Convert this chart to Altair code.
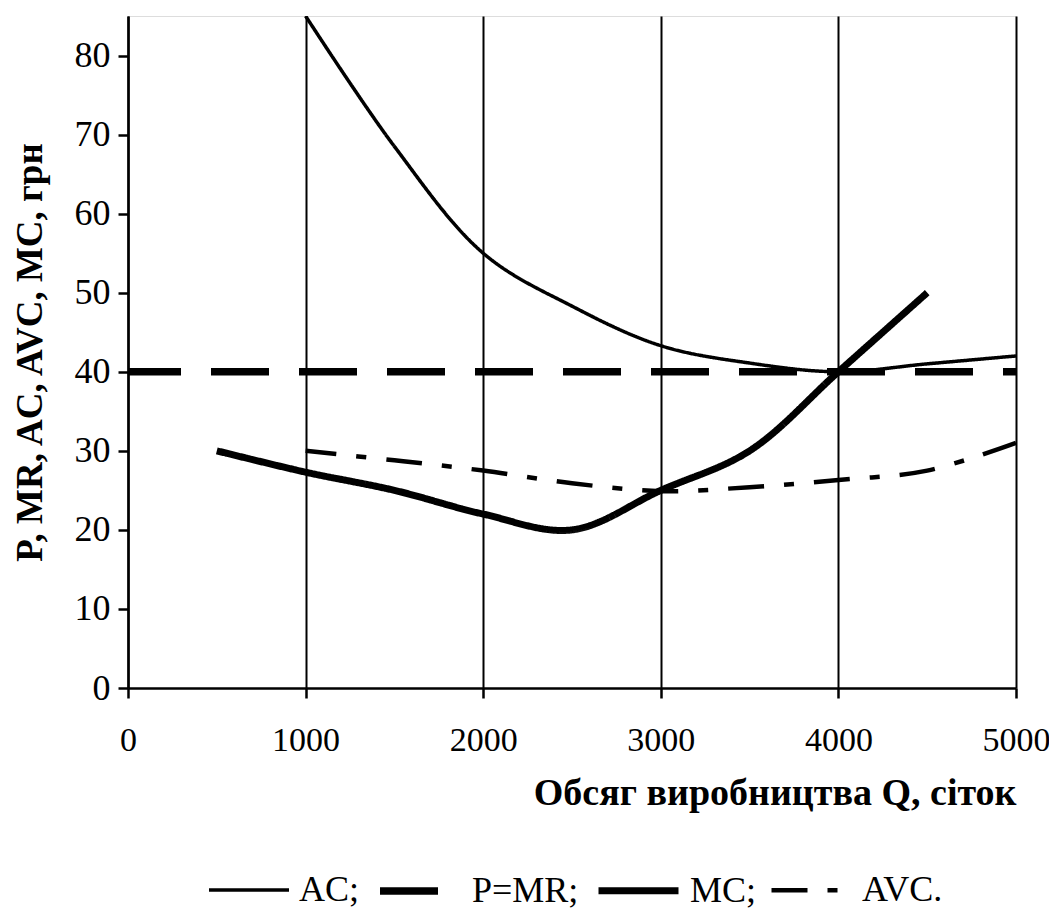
import altair as alt
import pandas as pd

# --- data ---
ac_q = [1000, 1500, 2000, 2500, 3000, 3500, 4000, 4500, 5000]
ac_v = [85, 68.5, 55, 48.3, 43.3, 41.1, 40, 41, 42]

pmr_q = [0, 5000]
pmr_v = [40, 40]

mc_q = [500, 1000, 1500, 2000, 2500, 3000, 3500, 4000, 4500]
mc_v = [30, 27.3, 25, 22, 20, 25, 30, 40, 50]

avc_q = [1000, 1500, 2000, 2500, 3000, 3500, 4000, 4500, 5000]
avc_v = [30, 28.8, 27.5, 25.9, 24.9, 25.4, 26.3, 27.5, 31]

series_names = ["AC;", "P=MR;", "MC;", "AVC."]
x_ticks = [0, 1000, 2000, 3000, 4000, 5000]
y_ticks = [0, 10, 20, 30, 40, 50, 60, 70, 80]

rows = []
for name, qs, vs in zip(series_names, [ac_q, pmr_q, mc_q, avc_q], [ac_v, pmr_v, mc_v, avc_v]):
    for i, (q, v) in enumerate(zip(qs, vs)):
        rows.append({"series": name, "Q": q, "V": v, "order": i})
df = pd.DataFrame(rows)

FONT = "Liberation Serif"

leg = dict(title=None, orient="none", direction="horizontal",
           legendX=79, legendY=831,
           symbolType="stroke", symbolSize=6400,
           labelFont=FONT, labelFontSize=36, labelColor="black",
           labelOffset=8, columnPadding=5)

chart = alt.Chart(df).mark_line(interpolate="catmull-rom", clip=True, strokeCap="butt",
                                strokeDashOffset=5).encode(
    x=alt.X("Q:Q",
            scale=alt.Scale(domain=[0, 5000], nice=False),
            axis=alt.Axis(values=x_ticks, format="d", title="Обсяг виробництва Q, сіток",
                          grid=True, gridColor="black", gridWidth=2, gridOpacity=1,
                          domainColor="black", domainWidth=2.5,
                          tickColor="black", tickWidth=2.5, tickSize=10,
                          labelFont=FONT, labelFontSize=34, labelColor="black",
                          labelPadding=25, labelFlush=False,
                          titleFont=FONT, titleFontSize=38, titleFontWeight="bold",
                          titleColor="black", titleAnchor="end", titleAlign="right",
                          titlePadding=17)),
    y=alt.Y("V:Q",
            scale=alt.Scale(domain=[0, 85], nice=False),
            axis=alt.Axis(values=y_ticks, title="P, MR, AC, AVC, MC, грн",
                          grid=False,
                          domainColor="black", domainWidth=2.5,
                          tickColor="black", tickWidth=2.5, tickSize=10,
                          labelFont=FONT, labelFontSize=36, labelColor="black",
                          labelPadding=8, labelFlush=False,
                          titleFont=FONT, titleFontSize=37, titleFontWeight="bold",
                          titleColor="black", titlePadding=25)),
    color=alt.Color("series:N", sort=series_names,
                    scale=alt.Scale(domain=series_names, range=["black"] * 4),
                    legend=alt.Legend(**leg)),
    strokeDash=alt.StrokeDash("series:N", sort=series_names,
                              scale=alt.Scale(domain=series_names,
                                              range=[[1, 0], [58, 30], [1, 0], [36, 20, 10, 20]]),
                              legend=alt.Legend(**leg)),
    strokeWidth=alt.StrokeWidth("series:N", sort=series_names,
                                scale=alt.Scale(type="ordinal", domain=series_names,
                                                range=[3.5, 7.5, 7, 4.5]),
                                legend=alt.Legend(**leg)),
    order="order:O",
    detail="series:N",
).properties(
    width=888, height=672,
    autosize=alt.AutoSizeParams(type="none"),
    padding={"left": 120, "top": 8, "right": 33, "bottom": 222},
).configure_view(
    stroke="black", strokeWidth=2.5
).configure(background="white")

chart.save("out.html", embed_options={"renderer": "svg", "actions": False})
